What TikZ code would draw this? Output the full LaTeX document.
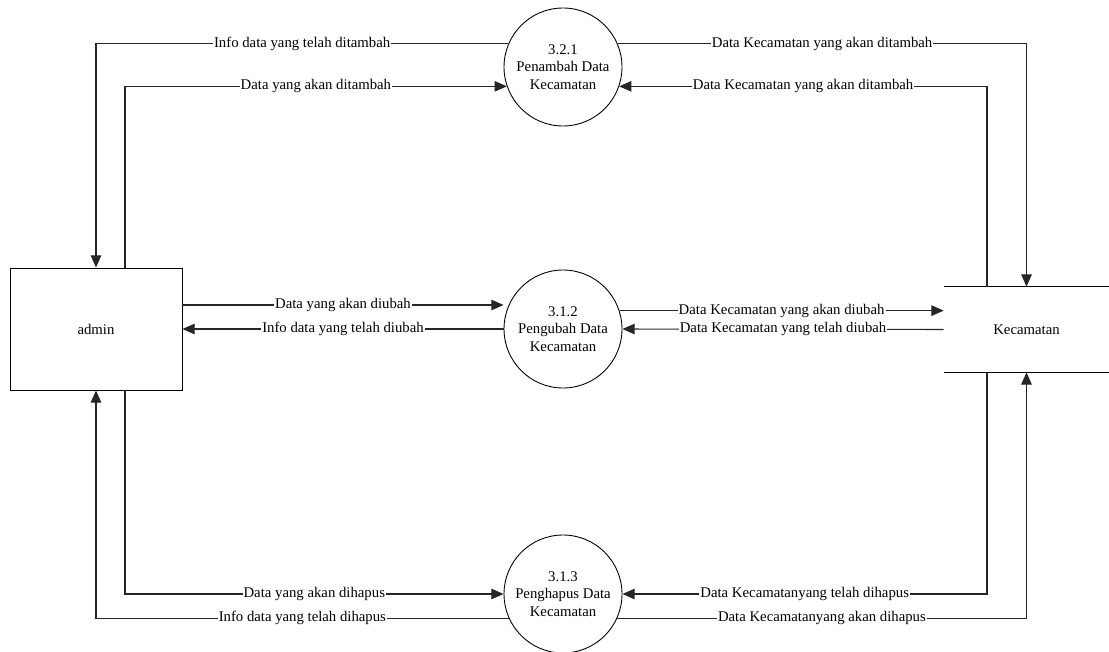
\documentclass[tikz,border=0pt]{standalone}
\usepackage{fontspec}
\setmainfont{Liberation Serif}
\usepackage{tikz}
\usetikzlibrary{arrows.meta,positioning}

\begin{document}
\begin{tikzpicture}[
    x=0.02cm, y=-0.02cm,
    font=\fontsize{8.4}{10}\selectfont,
    proc/.style={draw, circle, minimum size=2.36cm, inner sep=0pt, align=center, line width=0.5pt},
    entity/.style={draw, rectangle, minimum width=3.44cm, minimum height=2.44cm, line width=0.5pt},
    store/.style={rectangle, minimum width=3.3cm, minimum height=1.7cm},
    arrow/.style={-{Triangle[length=7pt, width=6pt]}, line width=0.6pt, draw=black!85},
    lbl/.style={fill=white, inner sep=0.6pt}
]
\useasboundingbox (0,0) rectangle (1109,652);

% External entity
\node[entity] (admin) at (96,329) {admin};

% Processes
\node[proc] (c1) at (563,67) {3.2.1\\Penambah Data\\Kecamatan};
\node[proc] (c2) at (563,329) {3.1.2\\Pengubah Data\\Kecamatan};
\node[proc] (c3) at (563,594) {3.1.3\\Penghapus Data\\Kecamatan};

% Data store
\node[store] (kec) at (1026.5,329.5) {Kecamatan};
\draw[line width=0.6pt] (kec.north west) -- (kec.north east);
\draw[line width=0.6pt] (kec.south west) -- (kec.south east);

% Flows with admin
\draw[arrow] (c1.157) -| node[lbl, pos=0.25] {Info data yang telah ditambah} (admin.north);
\draw[arrow] ([xshift=0.58cm]admin.north) |- node[lbl, pos=0.75] {Data yang akan ditambah} (c1.199);

\draw[arrow] ([yshift=0.48cm]admin.east) -- node[lbl, midway] {Data yang akan diubah} ([yshift=0.48cm]admin.east -| c2.west);
\draw[arrow] (c2.west) -- node[lbl, midway] {Info data yang telah diubah} (admin.east);

\draw[arrow] ([xshift=0.58cm]admin.south) |- node[lbl, pos=0.75] {Data yang akan dihapus} (c3.west);
\draw[arrow] (c3.204) -| node[lbl, pos=0.25] {Info data yang telah dihapus} (admin.south);

% Flows with Kecamatan
\draw[arrow] (c1.23) -| node[lbl, pos=0.25] {Data Kecamatan yang akan ditambah} (kec.north);
\draw[arrow] ([xshift=-0.79cm]kec.north) |- node[lbl, pos=0.75] {Data Kecamatan yang akan ditambah} (c1.-19);

\draw[arrow] (c2.18) -- node[lbl, midway] {Data Kecamatan yang akan diubah} (c2.18 -| kec.west);
\draw[arrow] (kec.west) -- node[lbl, midway] {Data Kecamatan yang telah diubah} (c2.east);

\draw[arrow] ([xshift=-0.79cm]kec.south) |- node[lbl, pos=0.75] {Data Kecamatanyang telah dihapus} (c3.east);
\draw[arrow] (c3.-24) -| node[lbl, pos=0.25] {Data Kecamatanyang akan dihapus} (kec.south);

\end{tikzpicture}
\end{document}
